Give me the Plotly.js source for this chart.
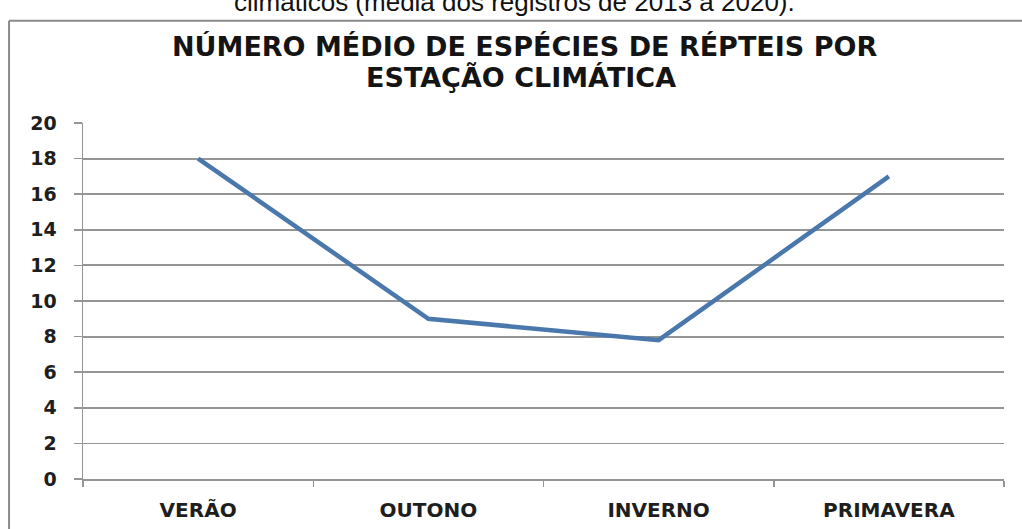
<!DOCTYPE html>
<html>
<head>
<meta charset="utf-8">
<script src="https://cdn.plot.ly/plotly-3.0.1.min.js"></script>
<style>
  html, body { margin: 0; padding: 0; background: #ffffff; }
  #chart { width: 1022px; height: 529px; }
</style>
</head>
<body>
<div id="chart"></div>
<script>
// Data
const seasons = ["VERÃO", "OUTONO", "INVERNO", "PRIMAVERA"];
const meanSpecies = [18, 9, 7.8, 17];
const yTickValues = [0, 2, 4, 6, 8, 10, 12, 14, 16, 18, 20];
const titleLine1 = "NÚMERO MÉDIO DE ESPÉCIES DE RÉPTEIS POR";
const titleLine2 = "ESTAÇÃO CLIMÁTICA";
const captionText = "climáticos (média dos registros de 2013 a 2020).";

const trace = {
  x: seasons,
  y: meanSpecies,
  type: "scatter",
  mode: "lines",
  line: { color: "#4a78ad", width: 4.5 },
  hoverinfo: "skip"
};

const gray = "#959595";

const layout = {
  width: 1022,
  height: 529,
  margin: { l: 83, r: 18, t: 123, b: 50 },
  paper_bgcolor: "#ffffff",
  plot_bgcolor: "#ffffff",
  showlegend: false,
  xaxis: {
    type: "category",
    range: [-0.5, 3.5],
    tickson: "boundaries",
    ticks: "outside",
    ticklen: 6,
    tickcolor: gray,
    tickwidth: 1.5,
    showgrid: false,
    showline: true,
    linecolor: gray,
    linewidth: 2,
    zeroline: false,
    ticklabelstandoff: 12,
    tickfont: { family: "DejaVu Sans", size: 20, color: "#1e1e1e", weight: "bold" }
  },
  yaxis: {
    range: [0, 20],
    tickvals: yTickValues,
    ticktext: yTickValues.map(String),
    ticks: "outside",
    ticklen: 8,
    tickcolor: gray,
    tickwidth: 1.5,
    showgrid: true,
    gridcolor: gray,
    gridwidth: 1.8,
    showline: true,
    linecolor: gray,
    linewidth: 1.5,
    zeroline: false,
    ticklabelstandoff: 13,
    tickfont: { family: "DejaVu Sans", size: 19, color: "#1e1e1e", weight: "bold" }
  },
  shapes: [
    { type: "line", xref: "paper", yref: "paper", x0: -0.0803, x1: -0.0803, y0: 1.287, y1: -0.2,
      line: { color: "#8a8a8a", width: 2 }, layer: "below" },
    { type: "line", xref: "paper", yref: "paper", x0: -0.0803, x1: 1.03, y0: 1.287, y1: 1.287,
      line: { color: "#8a8a8a", width: 2 }, layer: "below" }
  ],
  annotations: [
    { text: titleLine1, xref: "paper", yref: "paper", x: 0.479, y: 1.216, xanchor: "center", yanchor: "middle",
      showarrow: false, font: { family: "DejaVu Sans", size: 27, color: "#141414", weight: "bold" } },
    { text: titleLine2, xref: "paper", yref: "paper", x: 0.476, y: 1.1286, xanchor: "center", yanchor: "middle",
      showarrow: false, font: { family: "DejaVu Sans", size: 27, color: "#141414", weight: "bold" } },
    { text: captionText, xref: "paper", yref: "paper", x: 0.469, y: 1.2935, xanchor: "center", yanchor: "bottom",
      showarrow: false, font: { family: "Liberation Sans, Arial", size: 26, color: "#111111" } }
  ]
};

Plotly.newPlot("chart", [trace], layout, { staticPlot: true, displayModeBar: false });
</script>
</body>
</html>
